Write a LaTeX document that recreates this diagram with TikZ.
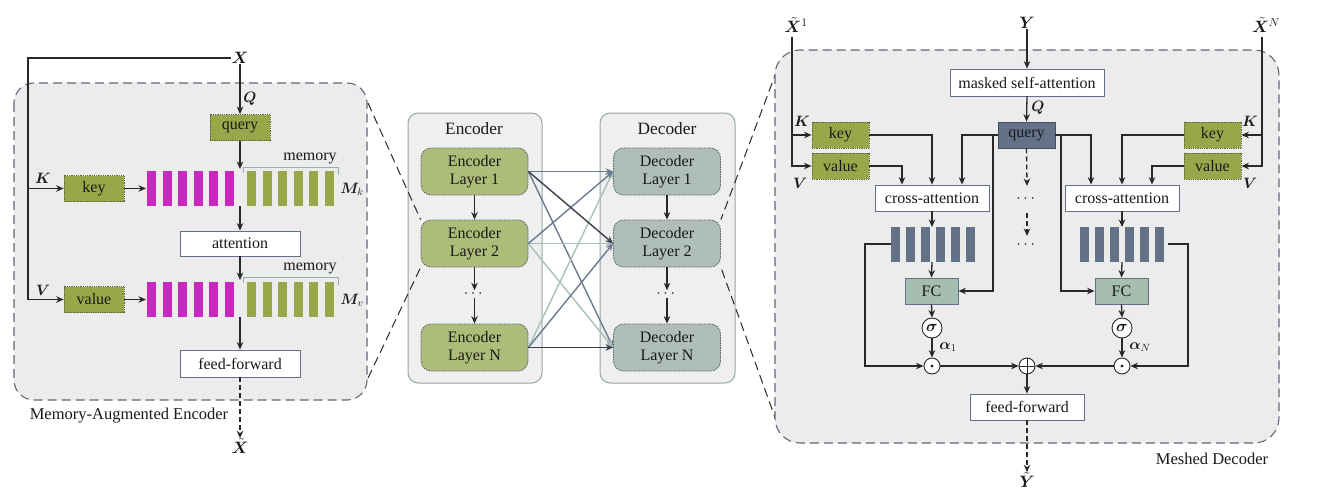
\RequirePackage{fix-cm}
\documentclass[tikz,border=0pt]{standalone}
\usepackage{amsmath,bm}
\usepackage{fontspec}
\setmainfont{Liberation Serif}
\usetikzlibrary{arrows.meta,calc}
\definecolor{olv}{RGB}{154,166,74}
\definecolor{olvd}{RGB}{90,100,60}
\definecolor{mag}{RGB}{200,40,190}
\definecolor{slate}{RGB}{100,114,136}
\definecolor{fcc}{RGB}{165,190,176}
\definecolor{pnl}{RGB}{236,236,236}
\definecolor{pnlb}{RGB}{239,239,239}
\definecolor{dashc}{RGB}{95,105,120}
\definecolor{bxb}{RGB}{100,112,132}
\definecolor{encl}{RGB}{174,188,122}
\definecolor{decl}{RGB}{176,190,186}
\definecolor{lyd}{RGB}{80,95,100}
\definecolor{outb}{RGB}{150,165,165}
\definecolor{lnc}{RGB}{40,40,40}
\definecolor{txt}{RGB}{25,25,25}
\definecolor{mdark}{RGB}{58,63,72}
\definecolor{mslate}{RGB}{107,122,144}
\definecolor{mlight}{RGB}{168,192,184}
\definecolor{brk}{RGB}{150,175,170}
\newcommand\tf{\fontsize{16}{18.5}\selectfont}
\newcommand\hf{\fontsize{17.3}{20}\selectfont}
\begin{document}
\begin{tikzpicture}[x=1pt,y=-1pt,
 every node/.style={font=\tf, text=txt, inner sep=0pt},
 ln/.style={line width=1.3pt, draw=lnc},
 arr/.style={ln, -{Stealth[length=7.5pt,width=6.5pt]}},
 darr/.style={arr, dash pattern=on 5pt off 3pt},
 olivebox/.style={draw=olvd, fill=olv, densely dotted, line width=0.8pt, minimum height=26pt},
 whitebox/.style={draw=bxb, fill=white, line width=0.8pt, minimum height=26pt},
 querybox/.style={draw=slate!70!black, fill=slate, line width=0.8pt, minimum height=26pt, minimum width=57pt},
 fcbox/.style={draw=bxb, fill=fcc, line width=0.8pt, minimum height=26pt, minimum width=53pt},
 layerbox/.style={rounded corners=10pt, draw=lyd, dash pattern=on 1.5pt off 1pt, line width=0.8pt, minimum width=107pt, minimum height=47pt, align=center},
 panel/.style={draw=dashc, fill=pnl, line width=1.1pt, dash pattern=on 9pt off 5pt},
 zoomdash/.style={draw=lnc, line width=1pt, dash pattern=on 9pt off 5pt},
 mlab/.style={font=\fontsize{16.5}{18}\selectfont},
 slab/.style={font=\fontsize{15}{16}\selectfont},
 circ/.style={circle, draw=lnc, fill=white, line width=0.9pt},
 mesh/.style={line width=1.4pt, -{Stealth[length=7.5pt,width=6.5pt]}}
]
\useasboundingbox (0,0) rectangle (1320,503);

% ================= Left panel =================
\draw[panel, rounded corners=20pt] (14,83) rectangle (367,400);
\node[mlab] (X) at (240,58) {$\bm X$};
\node[olivebox, minimum width=60pt] (queryE) at (240,127.5) {query};
\node[olivebox, minimum width=60pt] (keyE) at (94,188.5) {key};
\node[olivebox, minimum width=60pt] (valueE) at (94,299.5) {value};
\node[whitebox, minimum width=120pt, minimum height=25pt] (att) at (240,243.5) {attention};
\node[whitebox, minimum width=120pt, minimum height=27pt] (ffE) at (240,363.5) {feed-forward};
\node[mlab] (Xt) at (240,446) {$\bm{\tilde{X}}$};
\node[slab] at (250,99) {$\bm Q$};
\node[slab] at (43,178) {$\bm K$};
\node[slab] at (43,290) {$\bm V$};
\node[slab] at (352,189) {$\bm M_k$};
\node[slab] at (352,300) {$\bm M_v$};
\node at (310,158) {memory};
\node at (310,268) {memory};
\node[font=\fontsize{16.5}{18}\selectfont] at (129,416) {Memory-Augmented Encoder};

% bars
\foreach \i in {0,...,5} {
  \fill[mag] (147+15.5*\i,171) rectangle (156+15.5*\i,206);
  \fill[olv] (247+15.5*\i,171) rectangle (256+15.5*\i,206);
  \fill[mag] (147+15.5*\i,282) rectangle (156+15.5*\i,317);
  \fill[olv] (247+15.5*\i,282) rectangle (256+15.5*\i,317);
}
\draw[brk, line width=1pt] (243,173) -- (243,167) -- (338,167) -- (338,175);
\draw[brk, line width=1pt] (243,283) -- (243,277) -- (338,277) -- (338,285);

\coordinate (L) at (28,62);
\coordinate (krowT) at (240,169);
\coordinate (krowB) at (240,206);
\coordinate (krowL) at (146,188.5);
\coordinate (vrowT) at (240,280);
\coordinate (vrowB) at (240,317);
\coordinate (vrowL) at (146,299.5);

\draw[arr] (X.west) -| (L |- valueE.west) -- (valueE.west);
\draw[arr] (L |- keyE.west) -- (keyE.west);
\draw[arr] (X.south) -- (queryE.north);
\draw[arr] (queryE.south) -- (krowT);
\draw[arr] (keyE.east) -- (krowL);
\draw[arr] (krowB) -- (att.north);
\draw[arr] (att.south) -- (vrowT);
\draw[arr] (valueE.east) -- (vrowL);
\draw[arr] (vrowB) -- (ffE.north);
\draw[darr] (ffE.south) -- (Xt.north);

% ================= Middle =================
\draw[draw=outb, fill=pnlb, line width=1pt, rounded corners=10pt] (408,113) rectangle (542,383);
\draw[draw=outb, fill=pnlb, line width=1pt, rounded corners=10pt] (600,113) rectangle (735,383);
\node[font=\hf] at (474,129) {Encoder};
\node[font=\hf] at (667,129) {Decoder};

\node[layerbox, fill=encl] (e1) at (474.5,171.5) {Encoder\\Layer 1};
\node[layerbox, fill=encl] (e2) at (474.5,243.5) {Encoder\\Layer 2};
\node (edots) at (474.5,294) {$\cdots$};
\node[layerbox, fill=encl] (eN) at (474.5,347.5) {Encoder\\Layer N};
\node[layerbox, fill=decl] (d1) at (667,171.5) {Decoder\\Layer 1};
\node[layerbox, fill=decl] (d2) at (667,243.5) {Decoder\\Layer 2};
\node (ddots) at (667,294) {$\cdots$};
\node[layerbox, fill=decl] (dN) at (667,347.5) {Decoder\\Layer N};

\draw[arr] (e1.south) -- (e2.north);
\draw[arr] (e2.south) -- (edots.north);
\draw[arr] (edots.south) -- (eN.north);
\draw[arr] (d1.south) -- (d2.north);
\draw[arr] (d2.south) -- (ddots.north);
\draw[arr] (ddots.south) -- (dN.north);

\draw[mesh, mslate] (e1.east) -- (d1.west);
\draw[mesh, mslate] (e1.east) -- (dN.west);
\draw[mesh, mlight] (e2.east) -- (d2.west);
\draw[mesh, mlight] (e2.east) -- (dN.west);
\draw[mesh, mlight] (eN.east) -- (d1.west);
\draw[mesh, mslate] (e2.east) -- (d1.west);
\draw[mesh, mslate] (eN.east) -- (d2.west);
\draw[mesh, mdark] (e1.east) -- (d2.west);
\draw[mesh, mdark] (eN.east) -- (dN.west);

% zoom lines
\coordinate (lzt) at (368,103);
\coordinate (lzb) at (368,378);
\coordinate (rzt) at (777,70);
\coordinate (rzb) at (777,423);
\draw[zoomdash] (lzt) -- (e2.north west);
\draw[zoomdash] (lzb) -- (e2.south west);
\draw[zoomdash] (rzt) -- (d2.north east);
\draw[zoomdash] (rzb) -- (d2.south east);

% ================= Right panel =================
\draw[panel, rounded corners=25pt] (775,50) rectangle (1279,443);
\node[mlab] (X1) at (796,25) {$\bm{\tilde{X}}^1$};
\node[mlab] (XN) at (1266,25) {$\bm{\tilde{X}}^N$};
\node[mlab] (Y) at (1027,23) {$\bm Y$};
\node[mlab] (Yt) at (1027,480) {$\bm{\tilde{Y}}$};
\coordinate (X1b) at (792,37);
\coordinate (XNb) at (1262,37);

\node[whitebox, minimum width=154pt, minimum height=27pt] (msa) at (1027,82.5) {masked self-attention};
\node[querybox] (query) at (1026.5,135) {query};
\node[slab] at (1038,108) {$\bm Q$};

\node[olivebox, minimum width=57pt] (keyL) at (840.5,135) {key};
\node[olivebox, minimum width=57pt] (valL) at (840.5,166) {value};
\node[olivebox, minimum width=57pt] (keyR) at (1212.5,135) {key};
\node[olivebox, minimum width=57pt] (valR) at (1212.5,166) {value};
\node[slab] at (802,121) {$\bm K$};
\node[slab] at (800,183) {$\bm V$};
\node[slab] at (1250,121) {$\bm K$};
\node[slab] at (1250,183) {$\bm V$};

\node[whitebox, minimum width=114pt] (caL) at (932,198) {cross-attention};
\node[whitebox, minimum width=114pt] (caR) at (1122,198) {cross-attention};

\foreach \i in {0,...,5} {
  \fill[slate] (891+15*\i,227) rectangle (900+15*\i,262);
  \fill[slate] (1080+15*\i,227) rectangle (1089+15*\i,262);
}
\coordinate (bLT) at (932,227);
\coordinate (bLB) at (932,262);
\coordinate (bLW) at (891,244);
\coordinate (bRT) at (1122,227);
\coordinate (bRB) at (1122,262);
\coordinate (bRE) at (1168,244);

\node[fcbox] (fcL) at (931.5,291) {FC};
\node[fcbox] (fcR) at (1121.5,291) {FC};
\node[circ, minimum size=20pt] (sgL) at (932,328) {$\bm\sigma$};
\node[circ, minimum size=20pt] (sgR) at (1122,328) {$\bm\sigma$};
\node[circ, minimum size=16pt] (odL) at (932,366) {};
\node[circ, minimum size=16pt] (odR) at (1122,366) {};
\node[circ, minimum size=16pt] (op) at (1027,366) {};
\fill[lnc] (odL.center) circle (1.6pt);
\fill[lnc] (odR.center) circle (1.6pt);
\draw[lnc, line width=0.9pt] (op.north) -- (op.south) (op.west) -- (op.east);
\node[slab] at (948,347) {$\bm\alpha_1$};
\node[slab] at (1140,347) {$\bm\alpha_N$};

\node[whitebox, minimum width=114pt] (ffD) at (1027,407) {feed-forward};
\node[font=\fontsize{16.5}{18}\selectfont] at (1212,459) {Meshed Decoder};

% inputs
\draw[arr] (X1b) |- (valL.west);
\draw[arr] (X1b |- keyL.west) -- (keyL.west);
\draw[arr] (XNb) |- (valR.east);
\draw[arr] (XNb |- keyR.east) -- (keyR.east);
\draw[arr] (Y.south) -- (msa.north);
\draw[arr] (msa.south) -- (query.north);

% to cross-attention
\draw[arr] (keyL.east) -| (caL.north);
\draw[arr] (valL.east) -| ([xshift=-30pt]caL.north);
\draw[arr] (query.west) -| ([xshift=30pt]caL.north);
\draw[arr] (keyR.west) -| (caR.north);
\draw[arr] (valR.west) -| ([xshift=30pt]caR.north);
\draw[arr] (query.east) -| ([xshift=-31pt]caR.north);

% query to FC
\coordinate (qL) at (993,135);
\coordinate (qR) at (1061,135);
\draw[arr] (qL) |- (fcL.east);
\draw[arr] (qR) |- (fcR.west);

% chains
\draw[arr] (caL.south) -- (bLT);
\draw[arr] (bLB) -- (fcL.north);
\draw[arr] (fcL.south) -- (sgL.north);
\draw[arr] (sgL.south) -- (odL.north);
\draw[arr] (caR.south) -- (bRT);
\draw[arr] (bRB) -- (fcR.north);
\draw[arr] (fcR.south) -- (sgR.north);
\draw[arr] (sgR.south) -- (odR.north);
\draw[arr] (bLW) -- (865,244) |- (odL.west);
\draw[arr] (bRE) -- (1188,244) |- (odR.east);
\draw[arr] (odL.east) -- (op.west);
\draw[arr] (odR.west) -- (op.east);
\draw[arr] (op.south) -- (ffD.north);
\draw[darr] (ffD.south) -- (Yt.north);

% middle dashed
\node (cd1) at (1027,199) {$\cdots$};
\node (cd2) at (1027,245) {$\cdots$};
\coordinate (cd1t) at (1027,186);
\coordinate (cd2t) at (1027,213);
\coordinate (cd2b) at (1027,236);
\draw[darr] (query.south) -- (cd1t);
\draw[darr] (cd2t) -- (cd2b);
\end{tikzpicture}
\end{document}
